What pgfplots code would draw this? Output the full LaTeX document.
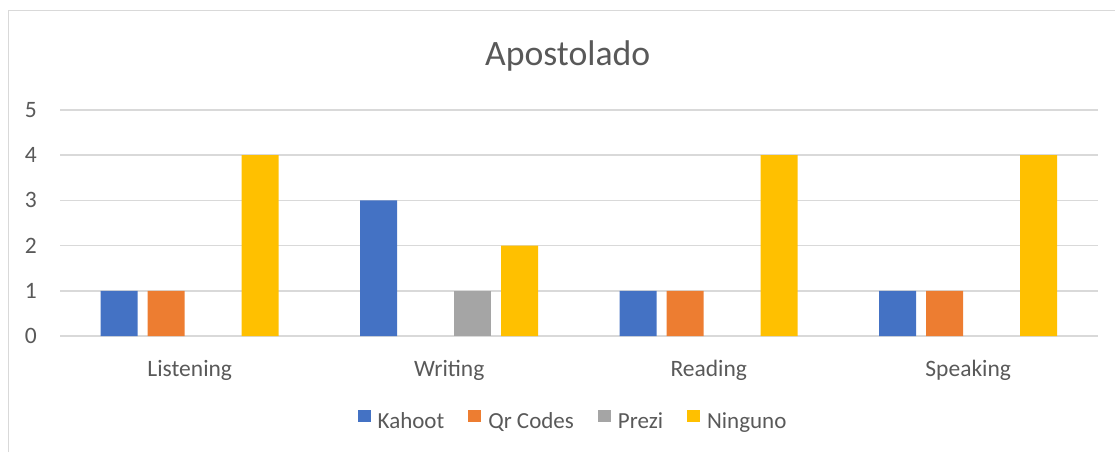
\documentclass[border=0pt]{standalone}
\usepackage{pgfplots}
\pgfplotsset{compat=1.18}
\usepackage{fontspec}
\setmainfont{Carlito}
\definecolor{cgrid}{HTML}{D9D9D9}
\definecolor{ctext}{HTML}{595959}
\definecolor{cblue}{HTML}{4472C4}
\definecolor{corange}{HTML}{ED7D31}
\definecolor{cgray}{HTML}{A5A5A5}
\definecolor{cyellow}{HTML}{FFC000}
\begin{document}
\begin{tikzpicture}
\path[use as bounding box] (0,0) rectangle (1115pt,452pt);
\draw[cgrid, line width=1.4pt] (8.2pt,0) -- (8.2pt,441.2pt) -- (1115pt,441.2pt);
\node[ctext, font=\fontsize{35.7}{40}\selectfont, anchor=base] at (567.7pt,386.3pt) {Apostolado};
\begin{axis}[
  at={(60pt,116pt)}, anchor=south west,
  scale only axis, width=1038pt, height=226pt,
  xmin=-0.5, xmax=3.5, ymin=0, ymax=5,
  enlarge x limits=false,
  axis line style={draw=none},
  major tick length=0pt,
  ytick={0,1,2,3,4,5},
  ymajorgrids, major grid style={cgrid, line width=1.4pt},
  xtick={0,1,2,3},
  xticklabels={Listening,Writing,Reading,Speaking},
  /pgf/number format/assume math mode=true,
  tick label style={ctext, font=\fontsize{23.5}{28}\selectfont},
  xticklabel style={anchor=base, yshift=-40pt},
  yticklabel style={anchor=east, inner sep=0pt, xshift=-23pt},
  ybar, bar width=37pt,
  legend columns=4,
  legend style={draw=none, fill=none, at={(0.4933,-0.3717)}, anchor=center,
    font=\fontsize{23}{28}\selectfont, text=ctext,
    /tikz/every even column/.append style={column sep=24pt},
    nodes={inner sep=0pt}},
  legend image code/.code={\fill[#1] (0pt,0pt) rectangle (13pt,12pt);},
]
\addplot[fill=cblue, draw=none, bar shift=-70.5pt] coordinates {(0,1) (1,3) (2,1) (3,1)};
\addlegendentry{\hspace{7pt}Kahoot}
\addplot[fill=corange, draw=none, bar shift=-23.5pt] coordinates {(0,1) (2,1) (3,1)};
\addlegendentry{\hspace{7pt}Qr Codes}
\addplot[fill=cgray, draw=none, bar shift=23.5pt] coordinates {(1,1)};
\addlegendentry{\hspace{7pt}Prezi}
\addplot[fill=cyellow, draw=none, bar shift=70.5pt] coordinates {(0,4) (1,2) (2,4) (3,4)};
\addlegendentry{\hspace{7pt}Ninguno}
\end{axis}
\end{tikzpicture}
\end{document}
